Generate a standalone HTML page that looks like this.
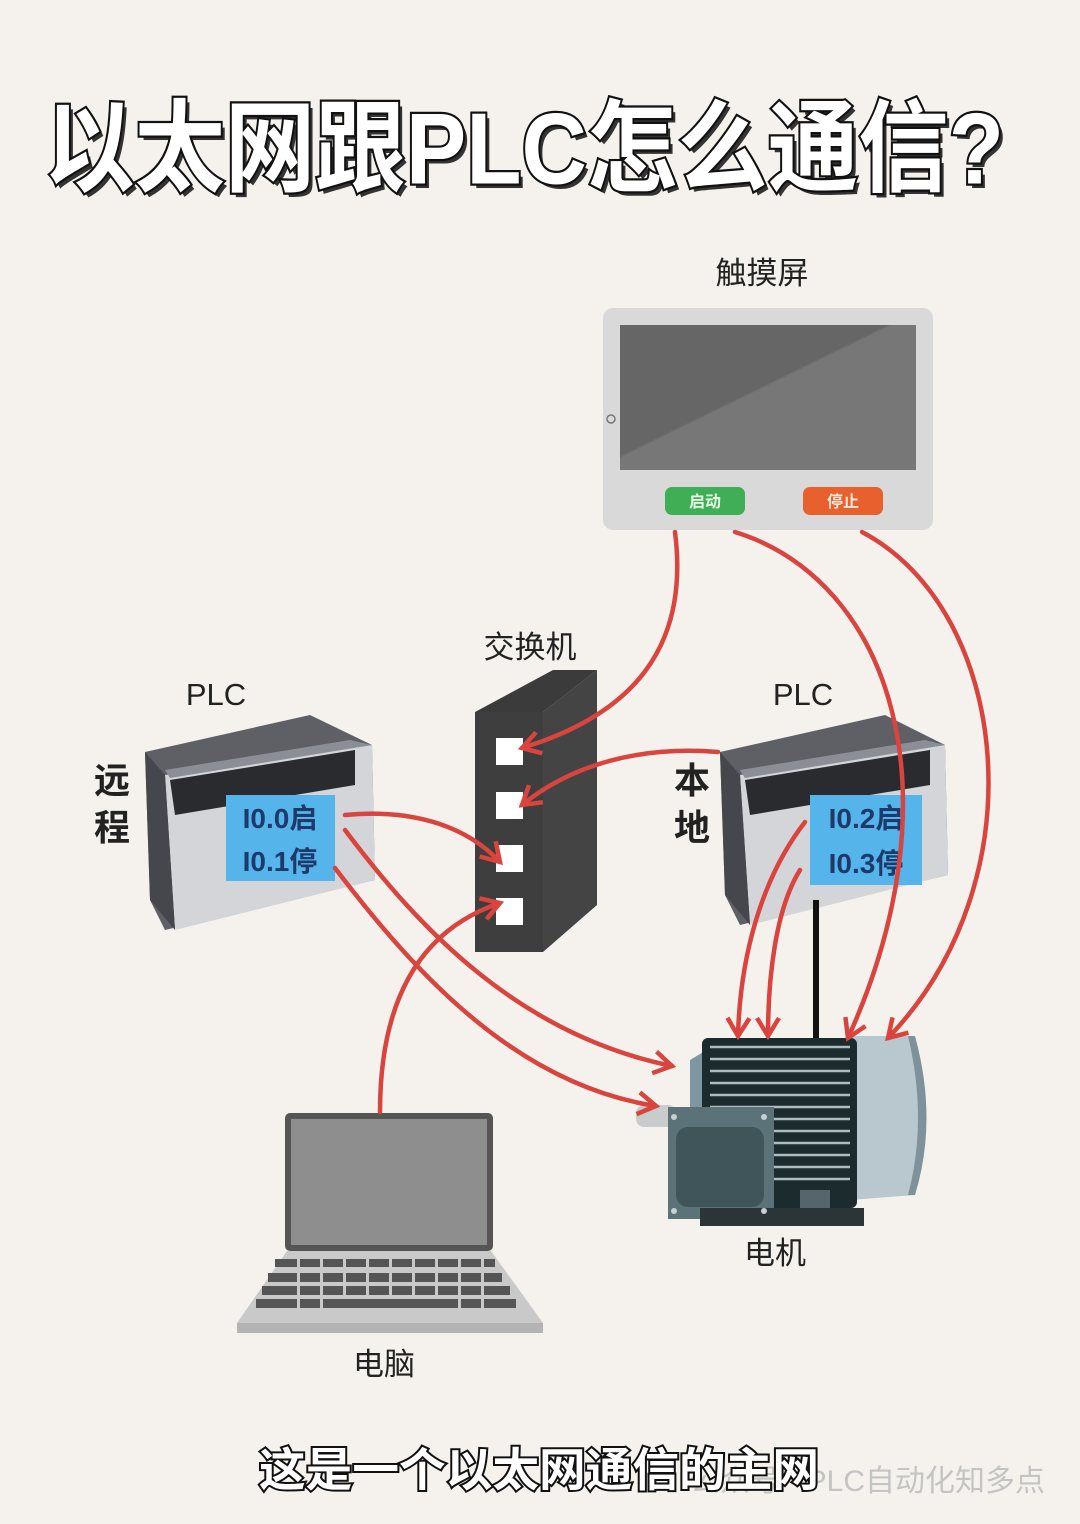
<!DOCTYPE html>
<html><head><meta charset="utf-8"><style>
html,body{margin:0;padding:0;background:#f5f2ed;}
svg{display:block;}
.t{font-family:"Liberation Sans","Noto Sans CJK SC",sans-serif;}
</style></head><body>
<svg width="1080" height="1524" viewBox="0 0 1080 1524" xmlns="http://www.w3.org/2000/svg" class="t">
<defs>
<marker id="ah2" markerWidth="26" markerHeight="26" refX="22" refY="13" orient="auto" markerUnits="userSpaceOnUse" viewBox="0 0 26 26">
<polyline points="4,2 22,13 4,24" fill="none" stroke="#d9443e" stroke-width="4.5" stroke-linejoin="miter"/>
</marker>
<linearGradient id="scr" x1="0" y1="0" x2="1" y2="1"><stop offset="0.45" stop-color="#666"/><stop offset="0.46" stop-color="#777"/></linearGradient>
</defs>
<rect width="1080" height="1524" fill="#f5f2ed"/>

<!-- Title -->
<g transform="translate(0,150) scale(1,1.12) translate(0,-150)">
<text x="524" y="180" text-anchor="middle" font-size="90" font-weight="bold" fill="#333" textLength="960" lengthAdjust="spacingAndGlyphs" transform="translate(4,4)">以太网跟PLC怎么通信?</text>
<text x="524" y="180" text-anchor="middle" font-size="90" font-weight="bold" fill="#fff" stroke="#111" stroke-width="4" paint-order="stroke" textLength="960" lengthAdjust="spacingAndGlyphs">以太网跟PLC怎么通信?</text>
</g>

<!-- Touchscreen -->
<text x="762" y="284" text-anchor="middle" font-size="31" fill="#222">触摸屏</text>
<rect x="603" y="308" width="330" height="222" rx="10" fill="#d9d9d9"/>
<rect x="620" y="325" width="296" height="145" fill="url(#scr)"/>
<circle cx="611" cy="419" r="4" fill="none" stroke="#777" stroke-width="1.5"/>
<rect x="665" y="487" width="80" height="28" rx="7" fill="#3fae55"/>
<text x="705" y="507" text-anchor="middle" font-size="16" font-weight="bold" fill="#e9ffe9">启动</text>
<rect x="803" y="487" width="80" height="28" rx="7" fill="#e8602e"/>
<text x="843" y="507" text-anchor="middle" font-size="16" font-weight="bold" fill="#ffe8dc">停止</text>

<!-- Switch -->
<text x="530" y="658" text-anchor="middle" font-size="31" fill="#222">交换机</text>
<polygon points="475,712 553,670 597,670 543,712" fill="#3b3b3b"/>
<polygon points="543,712 597,670 597,905 543,952" fill="#444"/>
<rect x="475" y="712" width="68" height="240" fill="#3e3e3e"/>
<rect x="496" y="738" width="27" height="27" fill="#fff"/>
<rect x="496" y="792" width="27" height="27" fill="#fff"/>
<rect x="496" y="845" width="27" height="27" fill="#fff"/>
<rect x="496" y="898" width="27" height="27" fill="#fff"/>

<!-- Left PLC -->
<text x="216" y="705" text-anchor="middle" font-size="31" fill="#222">PLC</text>
<text x="112" y="793" text-anchor="middle" font-size="36" font-weight="bold" fill="#222">远</text>
<text x="112" y="840" text-anchor="middle" font-size="36" font-weight="bold" fill="#222">程</text>
<g>
<polygon points="145,752 310,715 372,745 375,880 165,930 150,900" fill="#5e6066"/>
<polygon points="165,775 372,745 375,880 175,930" fill="#d3d5d8"/>
<polygon points="145,752 165,775 175,930 150,900" fill="#45474c"/>
<polygon points="170,780 355,750 355,785 175,815" fill="#2a2b2e"/>
<polygon points="165,770 350,740 372,745 170,778" fill="#8b8e94"/>
</g>
<rect x="226" y="795" width="109" height="86" fill="#55b4ea"/>
<text x="280" y="828" text-anchor="middle" font-size="28" font-weight="bold" fill="#1d3a6a">I0.0启</text>
<text x="280" y="871" text-anchor="middle" font-size="28" font-weight="bold" fill="#1d3a6a">I0.1停</text>

<!-- Right PLC -->
<text x="803" y="705" text-anchor="middle" font-size="31" fill="#222">PLC</text>
<text x="692" y="793" text-anchor="middle" font-size="36" font-weight="bold" fill="#222">本</text>
<text x="692" y="840" text-anchor="middle" font-size="36" font-weight="bold" fill="#222">地</text>
<g>
<polygon points="720,752 885,715 945,745 948,875 740,925 725,895" fill="#5e6066"/>
<polygon points="740,775 945,745 948,875 750,925" fill="#d3d5d8"/>
<polygon points="720,752 740,775 750,925 725,895" fill="#45474c"/>
<polygon points="745,780 930,750 930,785 750,815" fill="#2a2b2e"/>
<polygon points="740,770 925,740 945,745 745,778" fill="#8b8e94"/>
</g>
<rect x="810" y="795" width="112" height="90" fill="#55b4ea"/>
<text x="866" y="828" text-anchor="middle" font-size="28" font-weight="bold" fill="#1d3a6a">I0.2启</text>
<text x="866" y="873" text-anchor="middle" font-size="28" font-weight="bold" fill="#1d3a6a">I0.3停</text>
<line x1="816" y1="900" x2="816" y2="1042" stroke="#111" stroke-width="6"/>

<!-- Motor -->
<g>
<path d="M690,1060 L710,1048 L710,1200 L690,1190 Z" fill="#7f97a3"/>
<rect x="636" y="1105" width="40" height="22" rx="8" fill="#c9cccd"/>
<path d="M850,1036 L915,1036 Q935,1120 915,1195 L850,1200 Z" fill="#b9c7cf"/>
<path d="M915,1036 Q938,1120 915,1195 L908,1195 Q928,1120 908,1036 Z" fill="#7e929c"/>
<rect x="702" y="1038" width="155" height="170" rx="6" fill="#1c2b2e"/>
<g stroke="#aebcc2" stroke-width="2.5">
<line x1="710" y1="1047" x2="850" y2="1047"/><line x1="710" y1="1059" x2="850" y2="1059"/>
<line x1="710" y1="1071" x2="850" y2="1071"/><line x1="710" y1="1083" x2="850" y2="1083"/>
<line x1="710" y1="1095" x2="850" y2="1095"/><line x1="710" y1="1107" x2="850" y2="1107"/>
<line x1="770" y1="1119" x2="850" y2="1119"/><line x1="770" y1="1131" x2="850" y2="1131"/>
<line x1="770" y1="1143" x2="850" y2="1143"/><line x1="770" y1="1155" x2="850" y2="1155"/>
<line x1="770" y1="1167" x2="850" y2="1167"/><line x1="770" y1="1179" x2="850" y2="1179"/>
</g>
<rect x="800" y="1190" width="30" height="18" fill="#55656b"/>
<rect x="668" y="1107" width="106" height="112" fill="#5b7278"/>
<rect x="676" y="1127" width="88" height="80" rx="12" fill="#3f5559"/>
<rect x="700" y="1208" width="164" height="18" fill="#2b3538"/>
<circle cx="674" cy="1117" r="3" fill="#c6d0d3"/><circle cx="764" cy="1117" r="3" fill="#c6d0d3"/>
<circle cx="674" cy="1211" r="3" fill="#c6d0d3"/><circle cx="764" cy="1211" r="3" fill="#c6d0d3"/>
</g>
<text x="775" y="1264" text-anchor="middle" font-size="31" fill="#222">电机</text>

<!-- Laptop -->
<rect x="285" y="1113" width="208" height="138" rx="5" fill="#555"/>
<rect x="291" y="1119" width="196" height="126" fill="#8e8e8e"/>
<polygon points="287,1251 491,1251 543,1323 237,1323" fill="#c9c9c9"/>
<rect x="237" y="1323" width="306" height="10" fill="#b4b4b4"/>
<g fill="#555">
<rect x="275" y="1259" width="220" height="8"/>
<rect x="268" y="1273" width="234" height="9"/>
<rect x="262" y="1286" width="248" height="9"/>
<rect x="256" y="1299" width="260" height="9"/>
</g>
<g fill="#c9c9c9">
<rect x="297" y="1259" width="3" height="50"/><rect x="320" y="1259" width="3" height="50"/>
<rect x="343" y="1259" width="3" height="37"/><rect x="366" y="1259" width="3" height="37"/>
<rect x="389" y="1259" width="3" height="37"/><rect x="412" y="1259" width="3" height="37"/>
<rect x="435" y="1259" width="3" height="37"/><rect x="458" y="1259" width="3" height="50"/>
<rect x="481" y="1259" width="3" height="50"/>
</g>
<text x="384" y="1375" text-anchor="middle" font-size="31" fill="#222">电脑</text>

<!-- Red connectors -->
<g fill="none" stroke="#d9443e" stroke-width="4.5" stroke-linecap="round" marker-end="url(#ah2)">
<path d="M675,532 C690,650 630,715 522,748"/>
<path d="M718,752 C630,745 565,770 522,805"/>
<path d="M345,815 C420,808 470,830 500,862"/>
<path d="M380,1112 C380,1000 420,930 500,903"/>
<path d="M345,830 C420,930 520,1035 672,1066"/>
<path d="M335,868 C420,980 520,1085 656,1106"/>
<path d="M735,532 C890,580 960,790 848,1038"/>
<path d="M862,532 C1010,610 1040,880 888,1038"/>
<path d="M805,822 C760,880 740,960 738,1036"/>
<path d="M800,870 C775,910 768,980 768,1036"/>
</g>

<!-- Caption -->
<text x="1045" y="1491" text-anchor="end" font-size="30" fill="#c4c4c4">公众号 · PLC自动化知多点</text>
<text x="539" y="1486" text-anchor="middle" font-size="46" font-weight="bold" fill="#fff" stroke="#111" stroke-width="4" paint-order="stroke" textLength="560" lengthAdjust="spacingAndGlyphs">这是一个以太网通信的主网</text>
</svg>
</body></html>
